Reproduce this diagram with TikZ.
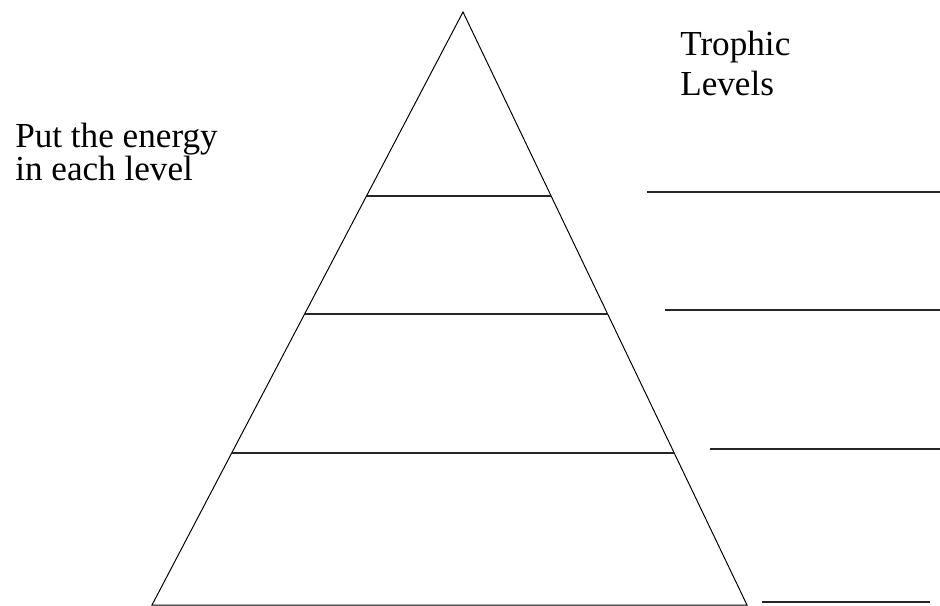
\documentclass[tikz,border=0pt]{standalone}
\usepackage{fontspec}
\setmainfont{Liberation Serif}
\usetikzlibrary{calc,positioning}

\begin{document}
\begin{tikzpicture}[
    x=0.025cm, y=-0.025cm,
    edge/.style={line width=0.7pt, black},
    level/.style={line width=1.1pt, black!85},
    blank/.style={line width=1.1pt, black!85},
    label/.style={anchor=north west, inner sep=0pt, align=left}
]
    \useasboundingbox (0,0) rectangle (940,605);

    % Pyramid
    \coordinate (apex) at (463,12);
    \coordinate (bl) at (152,605);
    \coordinate (br) at (747,605);
    \draw[edge] (bl) -- (apex) -- (br) -- cycle;

    % Levels
    \foreach \t in {0.310,0.509,0.744}
        \draw[level] ($(apex)!\t!(bl)$) -- ($(apex)!\t!(br)$);

    % Blanks for the trophic levels
    \foreach \y/\xa/\xb in {192/647/940, 310/665/940, 449/710/940, 602/762/930}
        \draw[blank] (\xa,\y) -- (\xb,\y);

    % Texts
    \node[label, font=\fontsize{25pt}{28.5pt}\selectfont] (trophic) at (680,31) {Trophic\\Levels};
    \node[label, font=\fontsize{25pt}{23.5pt}\selectfont] (energy) at (15,123) {Put the energy\\in each level};
\end{tikzpicture}
\end{document}
